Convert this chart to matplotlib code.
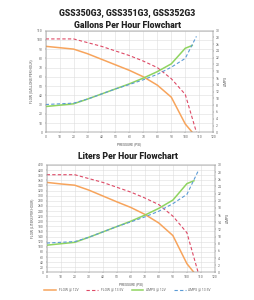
import matplotlib
matplotlib.use("Agg")
import matplotlib.pyplot as plt

# pressure (psi) sample points for each curve
psi_12 = [0, 10, 20, 30, 40, 50, 60, 70, 80, 90, 100, 105]
psi_135 = [0, 10, 20, 30, 40, 50, 60, 70, 80, 90, 100, 108]

# flow, gallons per hour
gph_12 = [93, 91.5, 90, 85, 79, 73, 67, 60, 51, 38, 9, 0]
gph_135 = [101, 101, 101, 97, 93, 88, 83, 77, 70, 58, 41, 0]

# flow, liters per hour
lph_12 = [352, 346, 341, 322, 299, 276, 254, 227, 193, 144, 34, 0]
lph_135 = [382, 382, 382, 367, 352, 333, 314, 291, 265, 220, 155, 0]

# current draw (amps)
amps_12 = [7.6, 8.0, 8.4, 9.8, 11.3, 12.8, 14.3, 16.0, 17.9, 20.2, 24.8, 25.6]
amps_135 = [8.2, 8.4, 8.6, 9.8, 11.3, 12.8, 14.1, 15.5, 17.1, 19.2, 21.8, 28.3]

labels = ["FLOW @ 12V", "FLOW @ 13.5V", "AMPS @ 12V", "AMPS @ 13.5V"]
ORANGE = "#f7a45c"
RED = "#de4a66"
GREEN = "#8fd460"
BLUE = "#5b9bd5"

plt.rcParams["font.family"] = ["Roboto", "DejaVu Sans"]
TICK = 2.4


def draw(ax, flow12, flow135, ymax, ystep, ylabel):
    ax.plot(psi_12, flow12, color=ORANGE, lw=1.1, label=labels[0])
    ax.plot(psi_135, flow135, color=RED, lw=0.8, ls=(0, (3, 2)), label=labels[1])
    ax.set_xlim(0, 120)
    ax.set_ylim(0, ymax)
    ax.set_xticks(range(0, 121, 10))
    ax.set_yticks(range(0, ymax + 1, ystep))
    ax.grid(True, color="#dddddd", lw=0.4)
    ax.set_axisbelow(True)
    ax.tick_params(labelsize=TICK, length=1, width=0.3, pad=1, colors="#666666")
    ax.set_ylabel(ylabel, fontsize=TICK, labelpad=3, color="#555555")
    ax.set_xlabel("PRESSURE (PSI)", fontsize=TICK, labelpad=2, color="#555555")
    for s in ax.spines.values():
        s.set_linewidth(0.3)
        s.set_color("#999999")

    ax2 = ax.twinx()
    ax2.plot(psi_12, amps_12, color=GREEN, lw=1.1, label=labels[2])
    ax2.plot(psi_135, amps_135, color=BLUE, lw=0.8, ls=(0, (3, 2)), label=labels[3])
    ax2.set_ylim(0, 30)
    ax2.set_yticks(range(0, 31, 2))
    ax2.tick_params(labelsize=TICK, length=1, width=0.3, pad=1, colors="#666666")
    ax2.set_ylabel("AMPS", fontsize=TICK, labelpad=3, color="#555555")
    for s in ax2.spines.values():
        s.set_linewidth(0.3)
        s.set_color("#999999")
    return ax2


fig = plt.figure(figsize=(2.55, 3.0), dpi=100)

fig.text(0.5, 0.958, "GSS350G3, GSS351G3, GSS352G3", ha="center", va="center",
         fontsize=6.2, fontweight="heavy", color="#222222")
fig.text(0.5, 0.915, "Gallons Per Hour Flowchart", ha="center", va="center",
         fontsize=6.2, fontweight="heavy", color="#222222")
fig.text(0.5, 0.477, "Liters Per Hour Flowchart", ha="center", va="center",
         fontsize=6.2, fontweight="heavy", color="#222222")

ax_top = fig.add_axes([0.179, 0.559, 0.657, 0.339])
draw(ax_top, gph_12, gph_135, 110, 10, "FLOW (GALLONS PER HOUR)")

ax_bot = fig.add_axes([0.183, 0.092, 0.66, 0.358])
ax_bot2 = draw(ax_bot, lph_12, lph_135, 420, 20, "FLOW (LITERS PER HOUR)")

h1, l1 = ax_bot.get_legend_handles_labels()
h2, l2 = ax_bot2.get_legend_handles_labels()
fig.legend(h1 + h2, l1 + l2, loc="center", bbox_to_anchor=(0.5, 0.032), ncol=4,
           fontsize=TICK, frameon=False, handlelength=3.5, columnspacing=2.5,
           labelcolor="#666666")

fig.savefig("out.png", dpi=100)
